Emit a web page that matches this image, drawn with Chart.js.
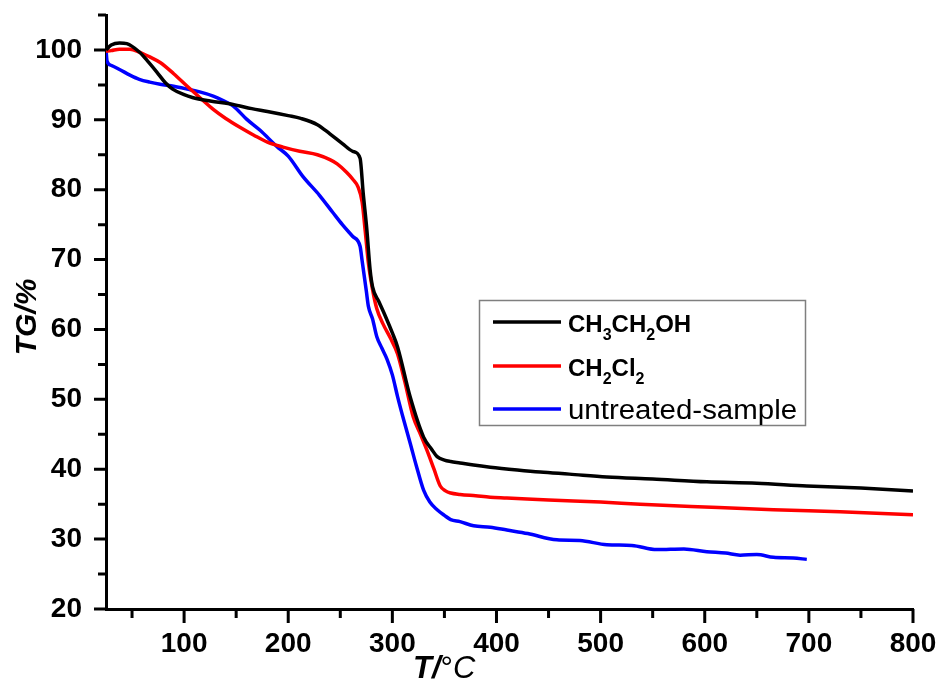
<!DOCTYPE html>
<html>
<head>
<meta charset="utf-8">
<script src="https://cdn.jsdelivr.net/npm/chart.js@4.4.1/dist/chart.umd.min.js"></script>
<style>
  html, body { margin: 0; padding: 0; background: #ffffff; }
  #wrap { width: 941px; height: 684px; }
</style>
</head>
<body>
<div id="wrap"><canvas id="tg" width="941" height="684"></canvas></div>
<script>
// Thermogravimetric curves: temperature (°C) vs remaining mass (%)
const ethanolT  = [25, 30, 38, 45, 57, 65, 74, 82, 89, 100, 108, 125, 147, 165, 180, 200, 212, 228, 240, 252, 262, 269, 272, 275.5, 278.6, 281, 287, 293, 300, 305, 317, 330, 338, 343, 350, 356, 365, 378, 394, 420, 442, 470, 506, 550, 602, 650, 698, 750, 800];
const ethanolTG = [100.0, 100.7, 101.0, 100.9, 99.7, 98.4, 96.8, 95.3, 94.4, 93.6, 93.2, 92.7, 92.2, 91.6, 91.2, 90.6, 90.2, 89.3, 88.0, 86.6, 85.5, 84.5, 79.5, 74.3, 68.6, 66.1, 64.0, 62.0, 59.5, 57.5, 50.4, 44.6, 42.8, 41.8, 41.3, 41.1, 40.9, 40.6, 40.3, 39.9, 39.6, 39.3, 38.9, 38.6, 38.2, 38.0, 37.6, 37.3, 36.9];

const dcmT  = [25, 30, 38, 48, 57, 67, 77, 90, 103, 115, 128, 140, 154, 167, 180, 195, 211, 228, 240, 247, 256, 262, 267, 271, 274, 277, 281, 285, 291, 298, 305, 312, 320, 327, 333, 340, 346, 351, 356, 365, 380, 394, 410, 450, 500, 538, 600, 666, 730, 800];
const dcmTG = [99.8, 99.9, 100.1, 100.1, 99.7, 99.0, 98.2, 96.6, 94.8, 93.2, 91.5, 90.2, 88.9, 87.8, 86.8, 86.1, 85.5, 85.0, 84.3, 83.7, 82.5, 81.5, 80.4, 78.2, 74.0, 69.5, 65.7, 63.0, 60.8, 58.8, 56.5, 52.5, 47.5, 45.0, 42.8, 40.0, 37.6, 36.9, 36.6, 36.4, 36.2, 36.0, 35.9, 35.6, 35.3, 35.0, 34.6, 34.2, 33.9, 33.5];

const rawT  = [25, 26, 30, 38, 48, 57, 67, 77, 90, 103, 115, 128, 137, 147, 160, 173, 189, 200, 214, 230, 243, 252, 262, 269, 271, 275, 277, 281, 285, 290, 295, 300, 305, 311, 317, 323, 330, 336, 343, 350, 356, 365, 378, 394, 410, 430, 458, 480, 506, 530, 554, 580, 602, 620, 634, 650, 666, 685, 698];
const rawTG = [100.1, 98.4, 97.8, 97.2, 96.4, 95.8, 95.4, 95.1, 94.8, 94.4, 94.0, 93.4, 92.8, 92.0, 90.1, 88.5, 86.2, 84.8, 81.9, 79.2, 76.7, 75.0, 73.3, 71.9, 69.8, 65.5, 63.3, 61.5, 59.0, 57.3, 55.7, 53.5, 50.4, 47.0, 43.8, 40.5, 37.0, 35.3, 34.2, 33.4, 32.8, 32.5, 31.9, 31.7, 31.3, 30.8, 29.9, 29.8, 29.2, 29.1, 28.5, 28.6, 28.2, 28.0, 27.7, 27.8, 27.4, 27.3, 27.1];

const seriesLabels = ['CH3CH2OH', 'CH2Cl2', 'untreated-sample'];
const seriesColors = ['#000000', '#ff0000', '#0000ff'];

const xTicks = [100, 200, 300, 400, 500, 600, 700, 800];
const xMinorTicks = [50, 150, 250, 350, 450, 550, 650, 750];
const yTicks = [20, 30, 40, 50, 60, 70, 80, 90, 100];
const yMinorTicks = [25, 35, 45, 55, 65, 75, 85, 95, 105];

const FAMILY = "'Liberation Sans', Arial, Helvetica, sans-serif";

function toPoints(xs, ys) {
  return xs.map((x, i) => ({ x: x, y: ys[i] }));
}

// Outward major/minor tick marks on both axes
const axisTicks = {
  id: 'axisTicks',
  afterDraw(chart) {
    const ctx = chart.ctx;
    const xs = chart.scales.x, ys = chart.scales.y;
    const area = chart.chartArea;
    ctx.save();
    ctx.strokeStyle = '#000';
    ctx.lineWidth = 3;
    ctx.lineCap = 'butt';
    ctx.beginPath();
    xTicks.forEach(v => { const p = xs.getPixelForValue(v); ctx.moveTo(p, area.bottom); ctx.lineTo(p, area.bottom + 14); });
    xMinorTicks.forEach(v => { const p = xs.getPixelForValue(v); ctx.moveTo(p, area.bottom); ctx.lineTo(p, area.bottom + 9); });
    yTicks.forEach(v => { const p = ys.getPixelForValue(v); ctx.moveTo(area.left, p); ctx.lineTo(area.left - 12, p); });
    yMinorTicks.forEach(v => { const p = ys.getPixelForValue(v); ctx.moveTo(area.left, p); ctx.lineTo(area.left - 8, p); });
    ctx.stroke();
    ctx.restore();
  }
};

// Draw a run of text segments; digits in chemical formulas become subscripts
function drawFormula(ctx, text, x, y, size) {
  const parts = text.match(/\d+|\D+/g);
  let cx = x;
  parts.forEach(p => {
    const isSub = /^\d+$/.test(p);
    ctx.font = 'bold ' + (isSub ? Math.round(size * 0.67) : size) + 'px ' + FAMILY;
    ctx.fillText(p, cx, isSub ? y + 8 : y);
    cx += ctx.measureText(p).width;
  });
}

// Axis titles and boxed legend
const annotations = {
  id: 'annotations',
  afterDraw(chart) {
    const ctx = chart.ctx;
    ctx.save();
    ctx.fillStyle = '#000';
    ctx.textBaseline = 'alphabetic';

    // x title: T/°C
    const segs = [
      { t: 'T', f: 'italic bold 31px ' + FAMILY },
      { t: '/', f: 'italic bold 31px ' + FAMILY },
      { t: '°', f: '31px ' + FAMILY },
      { t: 'C', f: 'italic 31px ' + FAMILY }
    ];
    let cx = 413;
    segs.forEach(s => { ctx.font = s.f; ctx.textAlign = 'left'; ctx.fillText(s.t, cx, 678); cx += ctx.measureText(s.t).width; });

    // y title: TG/%
    ctx.save();
    ctx.translate(36, 317);
    ctx.rotate(-Math.PI / 2);
    ctx.font = 'italic bold 30px ' + FAMILY;
    ctx.textAlign = 'center';
    ctx.fillText('TG/%', 0, 0);
    ctx.restore();

    // legend
    ctx.strokeStyle = '#7f7f7f';
    ctx.lineWidth = 1.5;
    ctx.strokeRect(479.5, 300.5, 326, 125);
    const rows = [322, 366, 409];
    ctx.textAlign = 'left';
    seriesLabels.forEach((lab, i) => {
      ctx.strokeStyle = seriesColors[i];
      ctx.lineWidth = 3.5;
      ctx.beginPath();
      ctx.moveTo(493, rows[i]);
      ctx.lineTo(561, rows[i]);
      ctx.stroke();
      ctx.fillStyle = '#000';
      if (/\d/.test(lab)) {
        drawFormula(ctx, lab, 568, rows[i] + 9.5, 24);
      } else {
        ctx.save();
        ctx.translate(568, rows[i] + 10);
        ctx.scale(1.09, 1);
        ctx.font = '27px ' + FAMILY;
        ctx.fillText(lab, 0, 0);
        ctx.restore();
      }
    });
    ctx.restore();
  }
};

const chart = new Chart(document.getElementById('tg'), {
  type: 'line',
  data: {
    datasets: [
      { label: seriesLabels[0], data: toPoints(ethanolT, ethanolTG), borderColor: seriesColors[0] },
      { label: seriesLabels[1], data: toPoints(dcmT, dcmTG), borderColor: seriesColors[1] },
      { label: seriesLabels[2], data: toPoints(rawT, rawTG), borderColor: seriesColors[2] }
    ]
  },
  options: {
    responsive: false,
    animation: false,
    devicePixelRatio: 1,
    layout: { padding: { top: 15, right: 28, left: 0, bottom: 0 } },
    datasets: {
      line: { borderWidth: 3.5, pointRadius: 0, fill: false, cubicInterpolationMode: 'monotone' }
    },
    plugins: { legend: { display: false }, tooltip: { enabled: false } },
    scales: {
      x: {
        type: 'linear',
        min: 25,
        max: 800,
        afterBuildTicks: s => { s.ticks = xTicks.map(v => ({ value: v })); },
        afterFit: s => { s.height = 75; s.paddingLeft = 0; s.paddingRight = 0; },
        ticks: { color: '#000', font: { family: FAMILY, size: 28, weight: 'bold' }, padding: 18, maxRotation: 0, autoSkip: false },
        grid: { drawOnChartArea: false, drawTicks: false },
        border: { display: true, color: '#000', width: 3 }
      },
      y: {
        min: 20,
        max: 105,
        afterBuildTicks: s => { s.ticks = yTicks.map(v => ({ value: v })); },
        afterFit: s => { s.width = 106; s.paddingTop = 0; s.paddingBottom = 0; },
        ticks: { color: '#000', font: { family: FAMILY, size: 28, weight: 'bold' }, padding: 24, autoSkip: false },
        grid: { drawOnChartArea: false, drawTicks: false },
        border: { display: true, color: '#000', width: 3 }
      }
    }
  },
  plugins: [axisTicks, annotations]
});
</script>
</body>
</html>
